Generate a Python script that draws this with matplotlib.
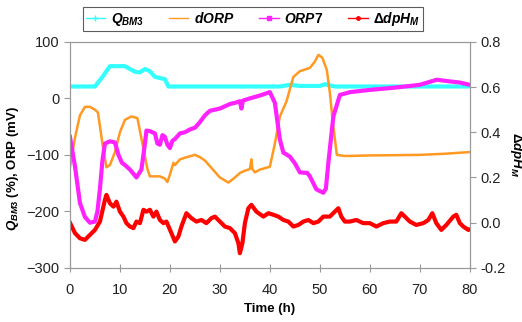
import matplotlib.pyplot as plt
from matplotlib.lines import Line2D

plt.rcParams['font.family'] = ['Liberation Sans', 'DejaVu Sans']
plt.rcParams['mathtext.fontset'] = 'custom'
plt.rcParams['mathtext.it'] = 'Liberation Sans:bold:italic'
plt.rcParams['mathtext.rm'] = 'Liberation Sans:bold'
plt.rcParams['mathtext.bf'] = 'Liberation Sans:bold'

# Q_BM3 (%)
q_t = [0, 5, 6.5, 8, 11, 12, 13, 14, 15, 16, 17, 18, 19, 19.7, 42, 44, 46, 50, 51, 52, 53, 80]
q_v = [21, 21, 38, 57, 57, 52, 47, 46, 52, 48, 38, 36, 34, 21, 21, 24, 22, 22, 25, 23, 21, 21]

# dORP (mV)
d_t = [0, 1, 2, 3, 4, 5, 5.6, 6.5, 7.3, 8, 9, 10, 11, 12.3, 13.5, 14.5, 15.5, 16, 18, 19,
       19.5, 20, 20.7, 21, 22, 23, 25, 26, 27, 28, 29, 30, 31.7, 33, 34, 35, 36, 36.3, 36.5,
       37, 38, 40, 41, 42, 43.3, 44.7, 46, 48, 49, 49.7, 50.5, 51.4, 52, 52.6, 53.4, 55, 60,
       70, 75, 80]
d_v = [-122, -70, -30, -15, -15, -20, -25, -80, -122, -118, -95, -60, -38, -32, -35, -80,
       -125, -138, -138, -142, -148, -135, -114, -118, -108, -105, -100, -104, -110, -120,
       -130, -140, -149, -140, -132, -128, -125, -108, -125, -131, -126, -121, -80, -32, -6,
       38, 48, 54, 65, 77, 72, 50, 10, -43, -100, -102, -101, -100, -98, -95]

# ORP7 (mV)
o_t = [0, 1, 2, 3, 4, 5, 5.5, 6, 6.5, 7, 8, 9, 9.7, 10.4, 11, 12, 13.3, 14.3, 15, 15.3, 16,
       17, 17.5, 18, 18.5, 19, 19.5, 20, 20.5, 21, 22, 23, 24, 25, 26, 27, 28, 29, 30, 31,
       32, 33, 34, 34.3, 34.6, 36, 38, 40, 41, 42, 42.7, 44, 45, 46, 47.5, 48, 49.3, 50.7,
       51.2, 51.7, 52.7, 54, 56, 60, 65, 70, 73.4, 76, 78, 80]
o_v = [-68, -120, -185, -210, -220, -218, -200, -160, -110, -80, -76, -78, -100, -114, -118,
       -126, -140, -126, -80, -57, -58, -62, -80, -82, -65, -68, -82, -88, -75, -72, -62,
       -60, -55, -52, -42, -30, -22, -20, -18, -14, -10, -8, -5, -18, -4, 0, 5, 11, -8, -73,
       -96, -103, -115, -131, -132, -138, -161, -167, -160, -114, -32, 6, 11, 15, 19, 24,
       33, 30, 28, 24]

# delta dpH_M (right axis)
p_t = [0, 1, 2, 3, 4, 5, 6, 7, 7.3, 8,
       8.7, 9.3, 10, 10.7, 11.3, 12, 12.7, 13.3, 14, 14.7,
       15.3, 16, 16.7, 17.3, 18, 18.7, 19.3, 20.3, 21, 21.7,
       22.3, 23.3, 24.3, 25.3, 26.3, 27.3, 28.3, 29, 30, 31,
       32, 33, 33.7, 34, 34.5, 35, 35.7, 36.3, 37.3, 38.7,
       39.7, 40.7, 41.7, 42.7, 43.7, 44.7, 45.7, 46.7, 47.7, 48.7,
       49.7, 50.7, 52, 53, 53.7, 54.3, 55, 56, 57.3, 58.7,
       60, 61.3, 62.7, 64, 65.3, 66.3, 67, 68, 69.3, 70.7,
       71.7, 72.5, 73.3, 74.3, 75.3, 76.7, 77.3, 78, 78.7, 79.7,
       80]
p_v = [0.0, -0.046, -0.069, -0.076, -0.054, -0.032, 0.005, 0.101, 0.123, 0.086,
       0.071, 0.093, 0.049, 0.027, -0.002, -0.017, -0.024, 0.005, -0.002, 0.057,
       0.049, 0.057, 0.027, 0.049, 0.012, -0.002, 0.005, -0.046, -0.083, -0.061,
       -0.017, 0.042, 0.02, 0.005, 0.012, -0.002, 0.02, 0.027, 0.005, -0.017,
       -0.024, -0.046, -0.091, -0.135, -0.091, -0.002, 0.064, 0.079, 0.049, 0.027,
       0.042, 0.035, 0.027, 0.012, 0.005, -0.017, -0.01, 0.005, 0.012, -0.002,
       0.005, 0.027, 0.027, 0.049, 0.064, 0.027, 0.005, 0.005, 0.012, -0.002,
       -0.002, -0.017, -0.002, 0.005, 0.005, 0.042, 0.027, 0.005, -0.01, -0.002,
       0.012, 0.042, -0.002, -0.032, -0.01, 0.027, 0.035, -0.002, -0.017, -0.032,
       -0.03]

c_q = '#33FFFF'
c_d = '#FF9922'
c_o = '#FF22FF'
c_p = '#FF0000'
grey = '#999999'

fig = plt.figure(figsize=(5.22, 3.22), dpi=100)
ax = fig.add_axes([0.134, 0.168, 0.766, 0.702])
ax2 = ax.twinx()

ax.plot(q_t, q_v, color=c_q, lw=3)
ax.plot(d_t, d_v, color=c_d, lw=1.8)
ax.plot(o_t, o_v, color=c_o, lw=3)
ax2.plot(p_t, p_v, color=c_p, lw=3)

ax.set_xlim(0, 80)
ax.set_ylim(-300, 100)
ax2.set_ylim(-0.2, 0.8)
ax.set_xticks(range(0, 81, 10))
ax.set_yticks(range(-300, 101, 100))
ax2.set_yticks([-0.2, 0.0, 0.2, 0.4, 0.6, 0.8])
ax2.set_yticklabels([f'{v:.1f}' for v in [-0.2, 0.0, 0.2, 0.4, 0.6, 0.8]])

for a in (ax, ax2):
    for s in a.spines.values():
        s.set_color(grey)
    a.tick_params(colors=grey, labelcolor='#222222', labelsize=10.5, length=4, width=0.8)
ax.tick_params(axis='x', direction='inout', length=6, pad=8)

ax.set_xlabel('Time (h)', fontsize=9.5, fontweight='bold', labelpad=4)
ax.set_ylabel(r'$Q_{BM3}$ (%), ORP (mV)', fontsize=9.5, fontweight='bold')
ax.yaxis.set_label_coords(-0.122, 0.44)
ax2.set_ylabel(r'$\Delta dpH_M$', fontsize=9.5, rotation=270, labelpad=13)

handles = [
    Line2D([], [], color=c_q, lw=1, marker='+', ms=4),
    Line2D([], [], color=c_d, lw=1),
    Line2D([], [], color=c_o, lw=1, marker='s', ms=2.5),
    Line2D([], [], color=c_p, lw=1, marker='o', ms=2.5),
]
labels = [r'$Q_{BM3}$', r'$dORP$', r'$ORP7$', r'$\Delta dpH_M$']
leg = fig.legend(handles, labels, loc='upper center', bbox_to_anchor=(0.485, 0.99), ncol=4,
                 fontsize=10, frameon=True, fancybox=False, handlelength=1.4,
                 columnspacing=1.8, handletextpad=0.4, borderpad=0.2,
                 borderaxespad=0.3)
leg.get_frame().set_edgecolor('#333333')
leg.get_frame().set_linewidth(0.8)

fig.savefig('out.png', dpi=100)
